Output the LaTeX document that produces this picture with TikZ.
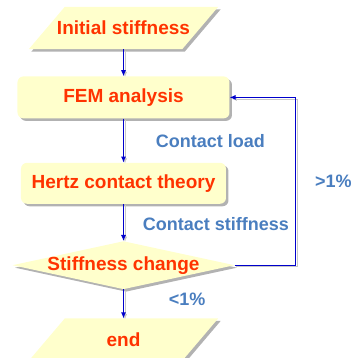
\documentclass[tikz,border=0pt]{standalone}
\usepackage{fontspec}
\setmainfont{Liberation Sans}
\usetikzlibrary{arrows.meta, positioning, shapes.geometric, shadows, backgrounds}

\definecolor{isian}{HTML}{FFFFCC}
\definecolor{teksmerah}{HTML}{FF3300}
\definecolor{teksbiru}{HTML}{4A7EBF}
\definecolor{garis}{HTML}{0000CC}

\begin{document}
\begin{tikzpicture}[
      x=1pt, y=1pt,
      font=\fontsize{18}{20}\selectfont\bfseries,
      bayang/.style={drop shadow={shadow xshift=2.5pt, shadow yshift=-2.5pt,
      fill=black!30, opacity=1}},
      kotak/.style={fill=isian, text=teksmerah, rounded corners=6pt,
      minimum height=42pt, font=\fontsize{19}{21}\selectfont\bfseries, bayang},
      masukan/.style={text=teksmerah, minimum width=153pt, minimum height=42pt,
      inner sep=0pt, font=\fontsize{19}{21}\selectfont\bfseries},
      keputusan/.style={kotak, diamond, sharp corners, aspect=4.6, inner sep=0pt,
      minimum width=222pt, minimum height=48pt},
      panah/.style={-{Latex[length=6pt, width=5pt]}, draw=garis, line width=0.9pt,
      preaction={draw=black!22, transform canvas={shift={(1.5pt,-1.5pt)}}}},
      ket/.style={text=teksbiru, inner sep=0pt}
    ]
    \useasboundingbox (0,0) rectangle (360,-358);

    \node[masukan] (awal) at (123.5,-28) {Initial stiffness};
    \node[kotak, minimum width=212pt, below=27pt of awal] (fem) {FEM analysis};
    \node[kotak, minimum width=205pt, minimum height=41pt, below=44pt of fem]
    (hertz) {Hertz contact theory};
    % teks belah ketupat dibuat lebar nol supaya ukurannya tetap
    \node[keputusan, below=37pt of hertz] (ubah) {\makebox[0pt]{Stiffness change}};
    \node[masukan, below=29pt of ubah] (akhir) {end};

    % jajaran genjang untuk masukan/keluaran
    \begin{scope}[on background layer]
      \foreach \n in {awal, akhir}
        \fill[isian, bayang] ([xshift=18pt]\n.north west) -- ([xshift=18pt]\n.north east)
        -- ([xshift=-18pt]\n.south east) -- ([xshift=-18pt]\n.south west) -- cycle;
    \end{scope}

    \draw[panah] (awal) -- (fem);
    \draw[panah] (fem) -- node[ket, right=32pt] {Contact load} (hertz);
    \draw[panah] (hertz) -- node[ket, right=19pt, yshift=-2pt]
    {Contact stiffness} (ubah);
    \draw[panah] (ubah) -- node[ket, right=45pt, yshift=5pt] {<1\%} (akhir);
    \draw[panah] (ubah.east) -- ++(61,0) |- node[ket, right=19pt, pos=0.25]
    {>1\%} (fem.east);
  \end{tikzpicture}
\end{document}
